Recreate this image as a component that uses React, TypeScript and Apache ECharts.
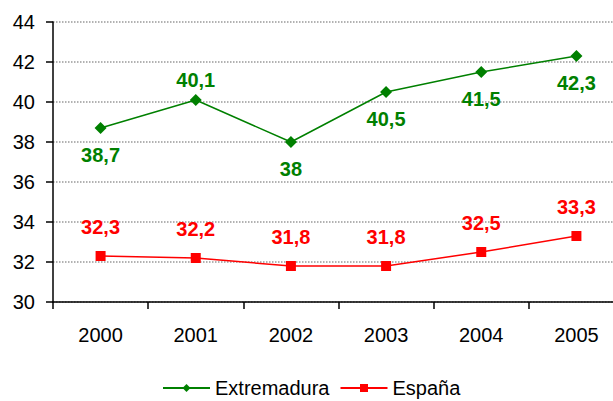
import React, { useEffect, useRef } from "react";
import * as echarts from "echarts";

const years = ["2000", "2001", "2002", "2003", "2004", "2005"];
const extremadura = [38.7, 40.1, 38, 40.5, 41.5, 42.3];
const espana = [32.3, 32.2, 31.8, 31.8, 32.5, 33.3];
const extremaduraLabelPos = ["bottom", "top", "bottom", "bottom", "bottom", "bottom"];

const fmt = (v: number) => String(v).replace(".", ",");

export default function App() {
  const ref = useRef<HTMLDivElement>(null);
  useEffect(() => {
    if (!ref.current) return;
    const chart = echarts.init(ref.current, undefined, { renderer: "svg" });
    const font = "Liberation Sans, Arial, sans-serif";
    chart.setOption({
      animation: false,
      textStyle: { fontFamily: font },
      grid: { left: 53, width: 571, top: 22, height: 280, containLabel: false, outerBoundsMode: "none" },
      legend: {
        top: 373,
        left: 157,
        itemWidth: 47,
        itemHeight: 10,
        itemGap: 10,
        textStyle: { fontSize: 20, color: "#000", fontFamily: font },
        data: ["Extremadura", "España"],
      },
      xAxis: {
        type: "category",
        data: years,
        boundaryGap: true,
        axisLine: { lineStyle: { color: "#000", width: 1.5 } },
        axisTick: { show: true, length: 7, lineStyle: { color: "#000", width: 1.5 }, alignWithLabel: false },
        axisLabel: { fontSize: 20, color: "#000", margin: 23, fontFamily: font },
        splitLine: { show: false },
      },
      yAxis: {
        type: "value",
        min: 30,
        max: 44,
        interval: 2,
        axisLine: { show: true, lineStyle: { color: "#000", width: 1.5 } },
        axisTick: { show: true, length: 7, lineStyle: { color: "#000", width: 1.5 } },
        axisLabel: { fontSize: 20, color: "#000", margin: 18, fontFamily: font },
        splitLine: { show: true, lineStyle: { color: "#999", type: "dotted", width: 1.5 } },
      },
      series: [
        {
          name: "Extremadura",
          type: "line",
          data: extremadura.map((v, i) => ({
            value: v,
            label: { position: extremaduraLabelPos[i], distance: extremaduraLabelPos[i] === "top" ? 4 : 11 },
          })),
          color: "#008000",
          lineStyle: { color: "#008000", width: 1.5 },
          symbol: "diamond",
          symbolSize: 12,
          itemStyle: { color: "#008000" },
          label: {
            show: true,
            fontSize: 20,
            fontWeight: "bold",
            color: "#008000",
            fontFamily: font,
            formatter: (p: any) => fmt(p.value),
          },
        },
        {
          name: "España",
          type: "line",
          data: espana,
          color: "#ff0000",
          lineStyle: { color: "#ff0000", width: 1.5 },
          symbol: "rect",
          symbolSize: 10,
          itemStyle: { color: "#ff0000" },
          label: {
            show: true,
            position: "top",
            distance: 14,
            fontSize: 20,
            fontWeight: "bold",
            color: "#ff0000",
            fontFamily: font,
            formatter: (p: any) => fmt(p.value),
          },
        },
      ],
    });
    return () => chart.dispose();
  }, []);
  return <div ref={ref} style={{ width: 613, height: 401, position: "absolute", left: 0, top: 0 }} />;
}
